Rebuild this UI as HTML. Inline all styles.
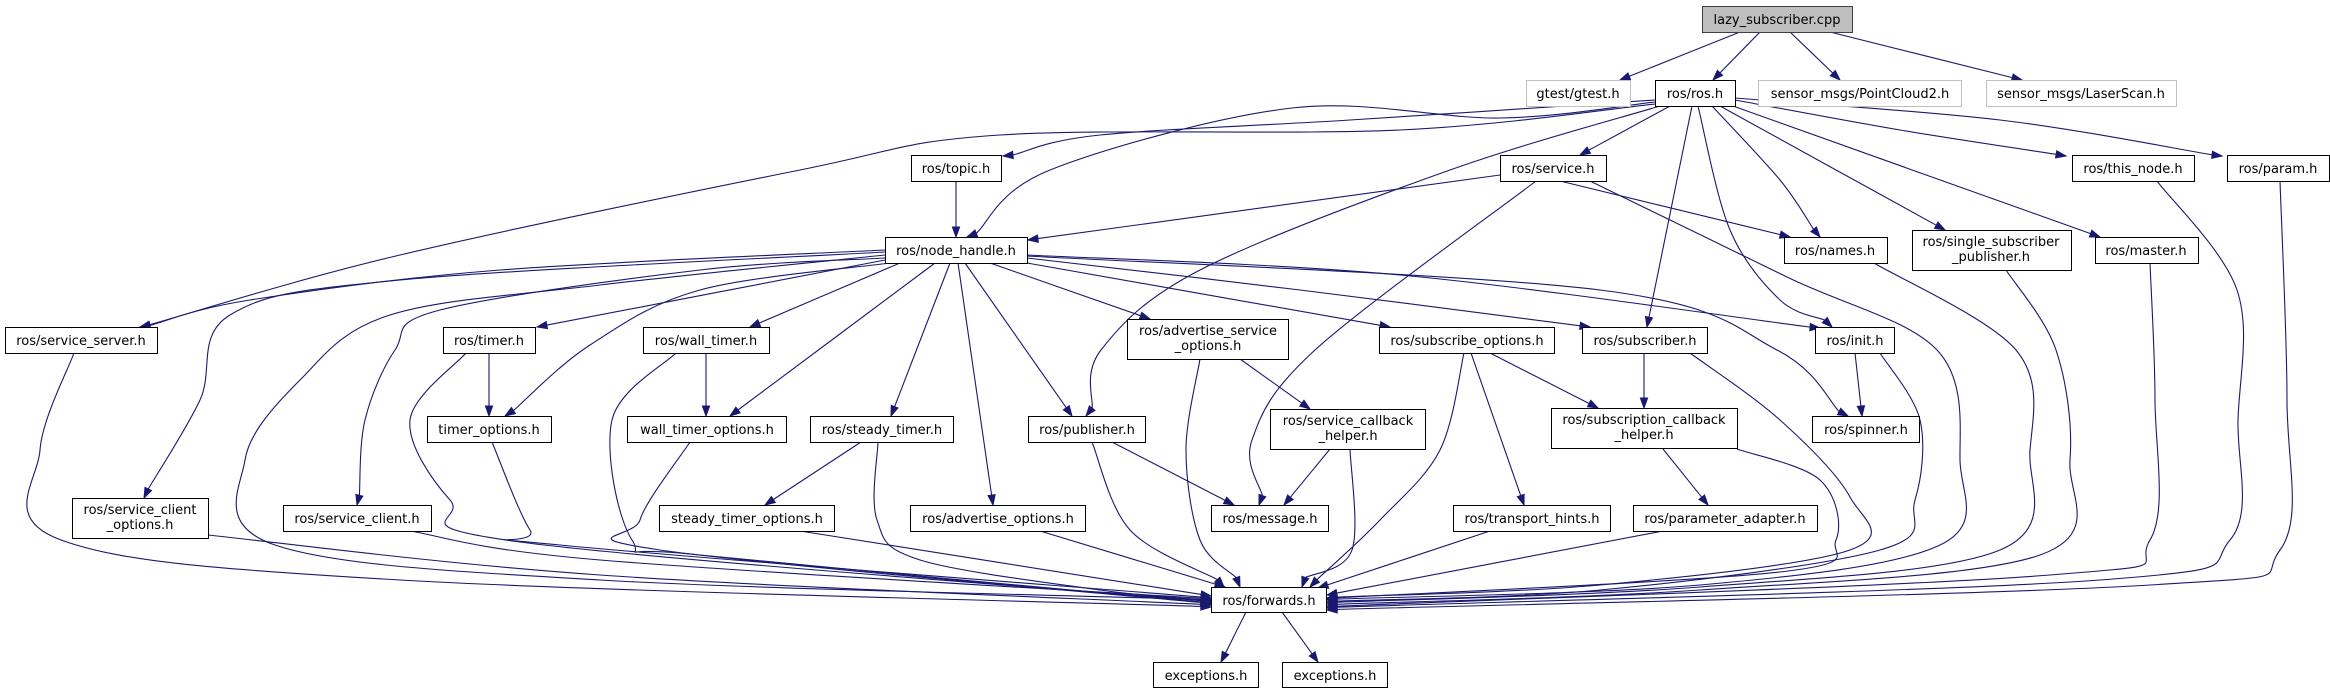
<!DOCTYPE html>
<html><head><meta charset="utf-8">
<style>
html,body{margin:0;padding:0;background:#fff;}
svg{display:block;}
text{font-family:"DejaVu Sans","Liberation Sans",sans-serif;font-size:13px;fill:#000;text-anchor:middle;}
rect{stroke-width:1;}
.n{fill:#fff;stroke:#000;}
.g{fill:#fff;stroke:#bfbfbf;}
</style></head>
<body>
<svg id="s" width="2330" height="693" xmlns="http://www.w3.org/2000/svg">
<g id="edges" fill="none" stroke="#191970" stroke-width="1.1"></g>
<g id="arrows" fill="#191970" stroke="#191970"></g>
<g id="nodes">
<rect x="1702.5" y="6.5" width="150" height="26" fill="#bfbfbf" stroke="#404040"/><text x="1777" y="24">lazy_subscriber.cpp</text>
<rect class="g" x="1526.5" y="80.5" width="104" height="26"/><text x="1578" y="98">gtest/gtest.h</text>
<rect class="n" x="1655.5" y="80.5" width="80" height="26"/><text x="1695" y="98">ros/ros.h</text>
<rect class="g" x="1758.5" y="80.5" width="203" height="26"/><text x="1860" y="98">sensor_msgs/PointCloud2.h</text>
<rect class="g" x="1986.5" y="80.5" width="190" height="26"/><text x="2081" y="98">sensor_msgs/LaserScan.h</text>
<rect class="n" x="911.5" y="155.5" width="90" height="26"/><text x="956" y="173">ros/topic.h</text>
<rect class="n" x="1500.5" y="155.5" width="106" height="26"/><text x="1553" y="173">ros/service.h</text>
<rect class="n" x="2072.5" y="155.5" width="122" height="26"/><text x="2133" y="173">ros/this_node.h</text>
<rect class="n" x="2227.5" y="155.5" width="102" height="26"/><text x="2278" y="173">ros/param.h</text>
<rect class="n" x="885.5" y="237.5" width="142" height="26"/><text x="956" y="255">ros/node_handle.h</text>
<rect class="n" x="1784.5" y="237.5" width="103" height="26"/><text x="1835" y="255">ros/names.h</text>
<rect class="n" x="1912.5" y="230.5" width="159" height="40"/><text x="1991" y="246">ros/single_subscriber</text><text x="1991" y="261">_publisher.h</text>
<rect class="n" x="2095.5" y="237.5" width="103" height="26"/><text x="2146" y="255">ros/master.h</text>
<rect class="n" x="5.5" y="327.5" width="152" height="26"/><text x="81" y="345">ros/service_server.h</text>
<rect class="n" x="443.5" y="327.5" width="92" height="26"/><text x="489" y="345">ros/timer.h</text>
<rect class="n" x="643.5" y="327.5" width="126" height="26"/><text x="706" y="345">ros/wall_timer.h</text>
<rect class="n" x="1127.5" y="319.5" width="161" height="40"/><text x="1208" y="335">ros/advertise_service</text><text x="1208" y="350">_options.h</text>
<rect class="n" x="1379.5" y="327.5" width="175" height="26"/><text x="1467" y="345">ros/subscribe_options.h</text>
<rect class="n" x="1582.5" y="327.5" width="125" height="26"/><text x="1645" y="345">ros/subscriber.h</text>
<rect class="n" x="1815.5" y="327.5" width="79" height="26"/><text x="1855" y="345">ros/init.h</text>
<rect class="n" x="427.5" y="416.5" width="124" height="26"/><text x="489" y="434">timer_options.h</text>
<rect class="n" x="627.5" y="416.5" width="159" height="26"/><text x="707" y="434">wall_timer_options.h</text>
<rect class="n" x="810.5" y="416.5" width="143" height="26"/><text x="882" y="434">ros/steady_timer.h</text>
<rect class="n" x="1028.5" y="416.5" width="117" height="26"/><text x="1087" y="434">ros/publisher.h</text>
<rect class="n" x="1270.5" y="409.5" width="155" height="40"/><text x="1348" y="425">ros/service_callback</text><text x="1348" y="440">_helper.h</text>
<rect class="n" x="1551.5" y="408.5" width="186" height="40"/><text x="1644" y="424">ros/subscription_callback</text><text x="1644" y="439">_helper.h</text>
<rect class="n" x="1812.5" y="416.5" width="107" height="26"/><text x="1866" y="434">ros/spinner.h</text>
<rect class="n" x="72.5" y="498.5" width="136" height="40"/><text x="140" y="514">ros/service_client</text><text x="140" y="529">_options.h</text>
<rect class="n" x="283.5" y="505.5" width="148" height="26"/><text x="357" y="523">ros/service_client.h</text>
<rect class="n" x="659.5" y="505.5" width="175" height="26"/><text x="747" y="523">steady_timer_options.h</text>
<rect class="n" x="910.5" y="505.5" width="175" height="26"/><text x="998" y="523">ros/advertise_options.h</text>
<rect class="n" x="1211.5" y="505.5" width="117" height="26"/><text x="1270" y="523">ros/message.h</text>
<rect class="n" x="1453.5" y="505.5" width="157" height="26"/><text x="1532" y="523">ros/transport_hints.h</text>
<rect class="n" x="1633.5" y="505.5" width="184" height="26"/><text x="1725" y="523">ros/parameter_adapter.h</text>
<rect class="n" x="1211.5" y="587.5" width="115" height="25"/><text x="1269" y="605">ros/forwards.h</text>
<rect class="n" x="1153.5" y="662.5" width="105" height="25"/><text x="1206" y="680">exceptions.h</text>
<rect class="n" x="1282.5" y="662.5" width="105" height="25"/><text x="1335" y="680">exceptions.h</text>
</g>
</svg>
<script>
var E=[
[[1740,32],[1620,80]],
[[1760,32],[1713,80]],
[[1790,32],[1840,80]],
[[1830,32],[2022,80]],
[[1655,100],[1350,120],[1100,135],[1003,156]],
[[1655,102],[1500,118],[1292,108],[1050,170],[967,237]],
[[1655,104],[1400,130],[1000,135],[800,170],[400,255],[140,327]],
[[1660,106],[1450,170],[1200,270],[1101,350],[1086,416]],
[[1670,106],[1580,155]],
[[1692,106],[1647,327]],
[[1698,106],[1730,230],[1780,300],[1832,327]],
[[1712,106],[1780,180],[1820,237]],
[[1720,106],[1945,230]],
[[1733,106],[2100,237]],
[[1735,100],[1900,130],[2066,156]],
[[1735,98],[2000,120],[2222,156]],
[[1500,175],[1028,240]],
[[1560,181],[1790,237]],
[[1536,181],[1315,350],[1252,440],[1259,505]],
[[1590,181],[1787,277],[1937,350],[1960,460],[1940,545],[1700,585],[1327,600]],
[[956,181],[956,237]],
[[885,250],[500,270],[250,300],[140,327]],
[[885,252],[400,280],[230,315],[200,400],[144,498]],
[[885,258],[700,270],[440,310],[395,350],[365,420],[357,505]],
[[885,255],[600,285],[390,315],[300,380],[245,460],[275,545],[600,580],[1211,600]],
[[885,260],[537,327]],
[[890,263],[700,290],[590,345],[505,416]],
[[900,263],[750,327]],
[[935,263],[730,416]],
[[950,263],[891,416]],
[[965,263],[1072,416]],
[[958,263],[993,505]],
[[990,263],[1150,319]],
[[1027,263],[1390,327]],
[[1027,258],[1300,290],[1590,327]],
[[1027,255],[1400,275],[1820,328]],
[[1027,256],[1600,290],[1777,350],[1848,416]],
[[74,353],[40,450],[61,540],[400,580],[1211,607]],
[[466,353],[410,420],[450,500],[520,542],[1211,602]],
[[489,353],[489,416]],
[[492,442],[530,530],[560,545],[1211,598]],
[[676,353],[612,420],[632,540],[700,555],[1211,603]],
[[706,353],[706,416]],
[[690,442],[640,520],[660,550],[1211,604]],
[[861,442],[765,505]],
[[878,442],[877,520],[920,560],[1100,590],[1211,601]],
[[800,531],[1211,596]],
[[208,535],[600,575],[1211,605]],
[[410,531],[600,560],[1211,599]],
[[1040,531],[1225,587]],
[[1200,359],[1186,450],[1200,540],[1240,587]],
[[1240,359],[1310,409]],
[[1330,449],[1284,505]],
[[1350,449],[1352,550],[1302,587]],
[[1112,442],[1234,505]],
[[1092,442],[1130,530],[1224,587]],
[[1464,353],[1440,450],[1380,520],[1310,587]],
[[1471,353],[1524,505]],
[[1490,353],[1598,408]],
[[1644,353],[1644,408]],
[[1690,353],[1780,420],[1850,497],[1850,550],[1600,585],[1327,598]],
[[1880,353],[1920,420],[1915,500],[1880,550],[1600,590],[1327,602]],
[[1855,353],[1862,416]],
[[1663,449],[1708,505]],
[[1737,449],[1820,480],[1836,540],[1780,572],[1327,599]],
[[1490,531],[1318,588]],
[[1663,531],[1327,595]],
[[1874,263],[2016,350],[2030,450],[2000,550],[1700,587],[1327,603]],
[[2006,270],[2056,350],[2070,460],[2040,555],[1700,590],[1327,605]],
[[2150,263],[2155,400],[2150,540],[2050,575],[1327,607]],
[[2157,181],[2237,290],[2238,420],[2230,540],[2100,580],[1327,608]],
[[2280,181],[2287,400],[2280,550],[2150,585],[1327,610]],
[[1246,612],[1221,662]],
[[1282,612],[1318,662]]
];
var eg=document.getElementById('edges'),ag=document.getElementById('arrows'),NS='http://www.w3.org/2000/svg';
E.forEach(function(p){
  var n=p.length,tip=p[n-1],c2;
  var P=p.map(function(a){return a.slice();});
  // compute direction of last segment
  var prev=P[n-2],pp=(n>2)?P[n-3]:P[n-2];
  var c2x=tip[0]-(tip[0]-pp[0])/6, c2y=tip[1]-(tip[1]-pp[1])/6;
  if(n==2){c2x=prev[0];c2y=prev[1];}
  var dx=tip[0]-c2x,dy=tip[1]-c2y,L=Math.sqrt(dx*dx+dy*dy)||1;dx/=L;dy/=L;
  var base=[tip[0]-dx*10,tip[1]-dy*10];
  P[n-1]=base;
  var d='M'+P[0][0]+','+P[0][1];
  for(var i=0;i<n-1;i++){
    var a=P[i-1]||P[i],b=P[i],c=P[i+1],e=P[i+2]||P[i+1];
    var x1=b[0]+(c[0]-a[0])/6,y1=b[1]+(c[1]-a[1])/6,x2=c[0]-(e[0]-b[0])/6,y2=c[1]-(e[1]-b[1])/6;
    d+=' C'+x1.toFixed(1)+','+y1.toFixed(1)+' '+x2.toFixed(1)+','+y2.toFixed(1)+' '+c[0].toFixed(1)+','+c[1].toFixed(1);
  }
  var pa=document.createElementNS(NS,'path');pa.setAttribute('d',d);eg.appendChild(pa);
  var px=-dy,py=dx,w=3.6;
  var tri=document.createElementNS(NS,'polygon');
  tri.setAttribute('points',tip[0]+','+tip[1]+' '+(base[0]+px*w)+','+(base[1]+py*w)+' '+(base[0]-px*w)+','+(base[1]-py*w));
  ag.appendChild(tri);
});
</script>
</body></html>
